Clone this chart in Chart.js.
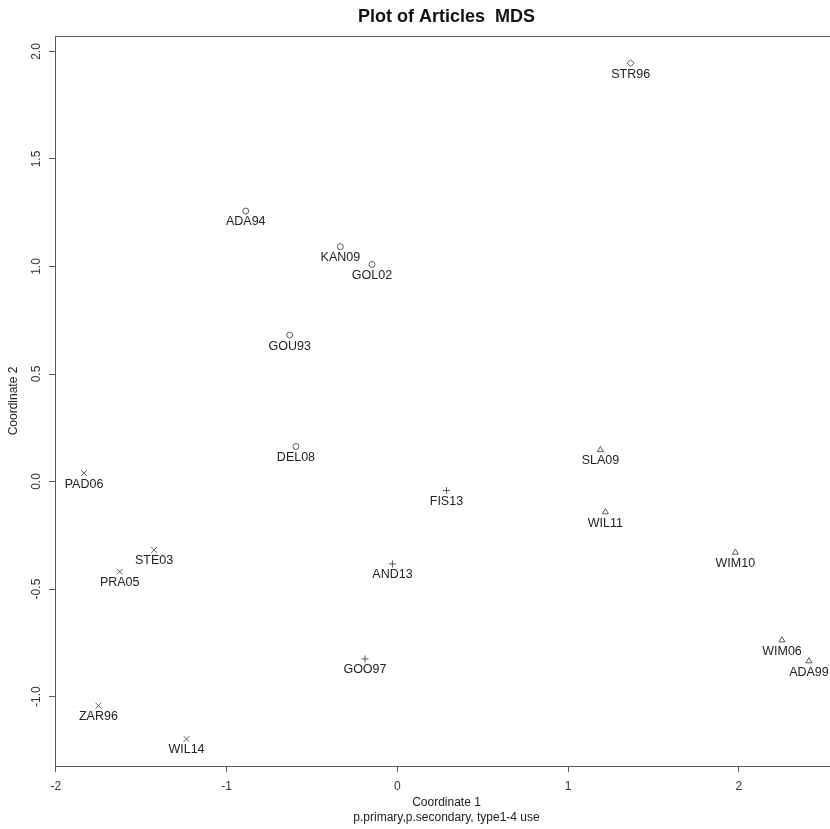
<!DOCTYPE html>
<html>
<head>
<meta charset="utf-8">
<title>Plot of Articles MDS</title>
<script src="https://cdn.jsdelivr.net/npm/chart.js@4.4.1/dist/chart.umd.min.js"></script>
<style>
  html, body { margin: 0; padding: 0; background: #fff; overflow: hidden; }
  #wrap { width: 850px; height: 829px; }
</style>
</head>
<body>
<div id="wrap"><canvas id="mds" width="850" height="829"></canvas></div>
<script>
// MDS coordinates, one group per marker type (R pch 1..5)
const circleLabels = ['ADA94', 'KAN09', 'GOL02', 'GOU93', 'DEL08'];
const circleX = [-0.888, -0.334, -0.149, -0.631, -0.594];
const circleY = [1.258, 1.092, 1.009, 0.681, 0.163];

const triangleLabels = ['SLA09', 'WIL11', 'WIM10', 'WIM06', 'ADA99'];
const triangleX = [1.189, 1.218, 1.979, 2.252, 2.410];
const triangleY = [0.147, -0.142, -0.330, -0.738, -0.835];

const plusLabels = ['FIS13', 'AND13', 'GOO97'];
const plusX = [0.287, -0.029, -0.190];
const plusY = [-0.042, -0.383, -0.825];

const crossLabels = ['PAD06', 'STE03', 'PRA05', 'ZAR96', 'WIL14'];
const crossX = [-1.835, -1.425, -1.626, -1.751, -1.235];
const crossY = [0.039, -0.318, -0.419, -1.042, -1.197];

const diamondLabels = ['STR96'];
const diamondX = [1.366];
const diamondY = [1.946];

// axis ranges and ticks
const xRange = [-2.005, 2.58];
const yRange = [-1.323, 2.072];
const xTicks = [-2, -1, 0, 1, 2];
const yTicks = [-1.0, -0.5, 0.0, 0.5, 1.0, 1.5, 2.0];

const FONT = '"Liberation Sans", Arial, Helvetica, sans-serif';
const markColor = '#5a5a5a';
const textColor = '#222';

function points(xs, ys, labels) {
    return xs.map((x, i) => ({ x: x, y: ys[i], label: labels[i] }));
}

function group(xs, ys, labels, style, radius) {
    return {
        data: points(xs, ys, labels),
        pointStyle: style,
        pointRadius: radius,
        borderColor: markColor,
        backgroundColor: 'rgba(0,0,0,0)',
        borderWidth: 1
    };
}

// box, point labels, titles and rotated y tick labels (R base graphics look)
const rDecor = {
    id: 'rDecor',
    afterDraw(chart) {
        const ctx = chart.ctx;
        const a = chart.chartArea;
        const cx = (a.left + a.right) / 2;
        ctx.save();

        ctx.strokeStyle = markColor;
        ctx.lineWidth = 1;
        ctx.strokeRect(Math.round(a.left) + 0.5, Math.round(a.top) + 0.5,
            Math.round(a.right - a.left), Math.round(a.bottom - a.top));

        ctx.fillStyle = textColor;
        ctx.textAlign = 'center';
        ctx.textBaseline = 'middle';
        ctx.font = '12.5px ' + FONT;
        chart.data.datasets.forEach((ds, di) => {
            const meta = chart.getDatasetMeta(di);
            meta.data.forEach((el, i) => {
                ctx.fillText(ds.data[i].label, el.x, el.y + 11);
            });
        });

        // y tick labels, rotated like R's las = 0
        const ys = chart.scales.y;
        ctx.fillStyle = '#333';
        ctx.font = '12px ' + FONT;
        yTicks.forEach(v => {
            ctx.save();
            ctx.translate(37, ys.getPixelForValue(v));
            ctx.rotate(-Math.PI / 2);
            ctx.fillText(v.toFixed(1), 0, 0);
            ctx.restore();
        });

        ctx.fillStyle = '#111';
        ctx.font = 'bold 18px ' + FONT;
        ctx.fillText('Plot of Articles  MDS', cx, 17);

        ctx.fillStyle = textColor;
        ctx.font = '12px ' + FONT;
        ctx.fillText('Coordinate 1', cx, 803);
        ctx.fillText('p.primary,p.secondary, type1-4 use', cx, 818);

        ctx.translate(14, (a.top + a.bottom) / 2);
        ctx.rotate(-Math.PI / 2);
        ctx.fillText('Coordinate 2', 0, 0);
        ctx.restore();
    }
};

new Chart(document.getElementById('mds'), {
    type: 'scatter',
    data: {
        datasets: [
            group(circleX, circleY, circleLabels, 'circle', 3),
            group(triangleX, triangleY, triangleLabels, 'triangle', 3.5),
            group(plusX, plusY, plusLabels, 'cross', 3.5),
            group(crossX, crossY, crossLabels, 'crossRot', 4),
            group(diamondX, diamondY, diamondLabels, 'rectRot', 3.5)
        ]
    },
    options: {
        responsive: false,
        animation: false,
        layout: { padding: { top: 36, right: 12, left: 0, bottom: 0 } },
        plugins: {
            legend: { display: false },
            tooltip: { enabled: false },
            title: { display: false }
        },
        scales: {
            x: {
                type: 'linear',
                bounds: 'data',
                min: xRange[0],
                max: xRange[1],
                afterBuildTicks: s => { s.ticks = xTicks.map(v => ({ value: v })); },
                afterFit: s => { s.height = 63; },
                grid: { drawOnChartArea: false, drawTicks: true, tickLength: 6, color: markColor },
                border: { display: false },
                ticks: {
                    color: '#333',
                    font: { size: 12, family: FONT },
                    padding: 7,
                    maxRotation: 0,
                    callback: v => String(v)
                }
            },
            y: {
                type: 'linear',
                bounds: 'data',
                min: yRange[0],
                max: yRange[1],
                afterBuildTicks: s => { s.ticks = yTicks.map(v => ({ value: v })); },
                afterFit: s => { s.width = 55; },
                grid: { drawOnChartArea: false, drawTicks: true, tickLength: 6, color: markColor },
                border: { display: false },
                ticks: { color: 'rgba(0,0,0,0)', font: { size: 12, family: FONT } }
            }
        }
    },
    plugins: [rDecor]
});
</script>
</body>
</html>
